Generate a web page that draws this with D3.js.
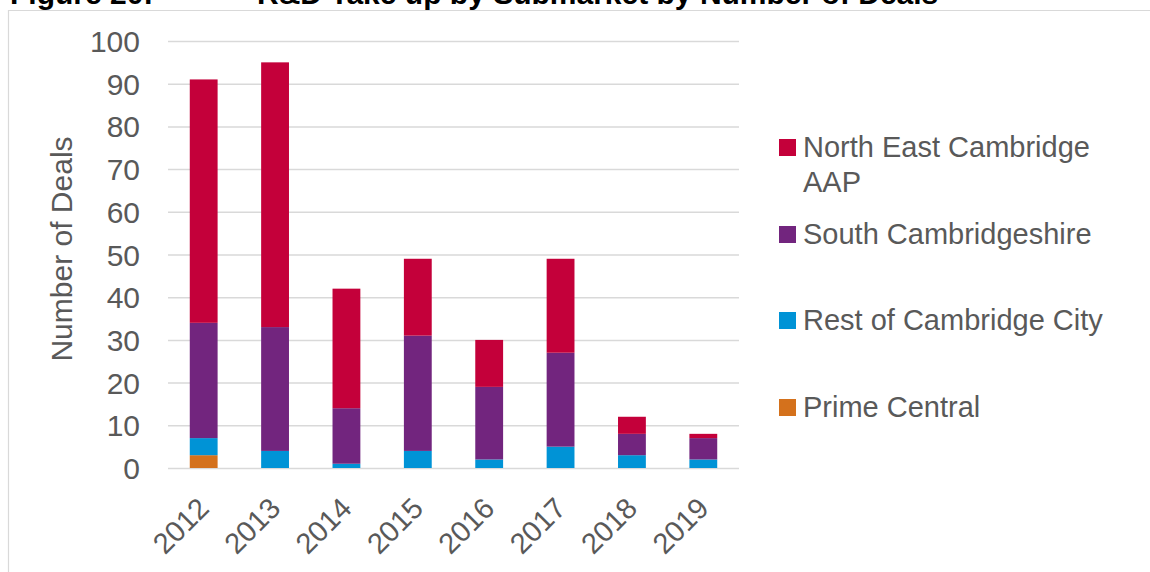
<!DOCTYPE html>
<html>
<head>
<meta charset="utf-8">
<script src="https://cdn.jsdelivr.net/npm/d3@7"></script>
<style>
  body { margin: 0; background: #fff; }
  svg { display: block; font-family: "Liberation Sans", Arial, sans-serif; }
</style>
</head>
<body>
<script>
// chart data
var years = ["2012", "2013", "2014", "2015", "2016", "2017", "2018", "2019"];
var primeCentral = [3, 0, 0, 0, 0, 0, 0, 0];
var restOfCity   = [4, 4, 1, 4, 2, 5, 3, 2];
var southCambs   = [27, 29, 13, 27, 17, 22, 5, 5];
var northEast    = [57, 62, 28, 18, 11, 22, 4, 1];
var yTicks = [0, 10, 20, 30, 40, 50, 60, 70, 80, 90, 100];

var seriesNames = ["Prime Central", "Rest of Cambridge City", "South Cambridgeshire", "North East Cambridge AAP"];
var seriesColors = ["#d4711c", "#0093d6", "#72257e", "#c4003a"];

var width = 1150, height = 572;
var textCol = "#595959";

var svg = d3.select("body").append("svg")
  .attr("width", width)
  .attr("height", height);

// caption (cut off at the top, as in the source page)
svg.append("text")
  .attr("x", 10).attr("y", 4)
  .style("font-size", "30px").style("font-weight", "bold").attr("fill", "#000")
  .text("Figure 20:");
svg.append("text")
  .attr("x", 257).attr("y", 4)
  .style("font-size", "30px").style("font-weight", "bold").attr("fill", "#000")
  .text("R&D Take up by Submarket by Number of Deals");

// chart frame
svg.append("path")
  .attr("d", "M8.5,580 V10.5 H1160")
  .attr("fill", "none")
  .attr("stroke", "#d9d9d9")
  .attr("stroke-width", 1.2);

var x = d3.scaleBand()
  .domain(years)
  .range([168, 739])
  .paddingInner(0.61)
  .paddingOuter(0.305);

var y = d3.scaleLinear()
  .domain([0, 100])
  .range([468, 41]);

// gridlines + tick labels
var yAxis = d3.axisLeft(y)
  .tickValues(yTicks)
  .tickSize(-(739 - 168))
  .tickPadding(28);

var gy = svg.append("g")
  .attr("transform", "translate(168,0)")
  .call(yAxis);
gy.select(".domain").remove();
gy.selectAll(".tick line")
  .attr("stroke", "#d9d9d9")
  .attr("stroke-width", 1.5);
gy.selectAll(".tick text")
  .attr("fill", textCol)
  .style("font-size", "30px")
  .attr("dy", "0.35em");

// stacked bars
var table = years.map(function(yr, i) {
  return {
    year: yr,
    "Prime Central": primeCentral[i],
    "Rest of Cambridge City": restOfCity[i],
    "South Cambridgeshire": southCambs[i],
    "North East Cambridge AAP": northEast[i]
  };
});
var stack = d3.stack().keys(seriesNames)(table);

svg.append("g").selectAll("g")
  .data(stack)
  .enter().append("g")
  .attr("fill", function(d, i) { return seriesColors[i]; })
  .selectAll("rect")
  .data(function(d) { return d; })
  .enter().append("rect")
  .attr("x", function(d) { return x(d.data.year); })
  .attr("width", x.bandwidth())
  .attr("y", function(d) { return y(d[1]); })
  .attr("height", function(d) { return y(d[0]) - y(d[1]); });

// x axis labels, rotated
var xAxis = d3.axisBottom(x).tickSize(0).tickPadding(0);
var gx = svg.append("g")
  .attr("transform", "translate(0,468)")
  .call(xAxis);
gx.select(".domain").remove();
gx.selectAll(".tick text")
  .attr("fill", textCol)
  .style("font-size", "29px")
  .attr("text-anchor", "end")
  .attr("dy", null)
  .attr("y", null)
  .attr("transform", "translate(7,42) rotate(-45)");

// y axis title
svg.append("text")
  .attr("transform", "translate(72,249) rotate(-90)")
  .attr("text-anchor", "middle")
  .attr("fill", textCol)
  .style("font-size", "30px")
  .text("Number of Deals");

// legend, top entry first
var legendItems = [
  { name: ["North East Cambridge", "AAP"], color: seriesColors[3], top: 139 },
  { name: ["South Cambridgeshire"], color: seriesColors[2], top: 226 },
  { name: ["Rest of Cambridge City"], color: seriesColors[1], top: 312 },
  { name: ["Prime Central"], color: seriesColors[0], top: 399 }
];

var lg = svg.append("g").selectAll("g")
  .data(legendItems)
  .enter().append("g");
lg.append("rect")
  .attr("x", 779)
  .attr("y", function(d) { return d.top; })
  .attr("width", 17).attr("height", 17)
  .attr("fill", function(d) { return d.color; });
lg.append("text")
  .attr("fill", textCol)
  .style("font-size", "29px")
  .selectAll("tspan")
  .data(function(d) { return d.name.map(function(n, i) { return { n: n, y: d.top + 18 + i * 35 }; }); })
  .enter().append("tspan")
  .attr("x", 803)
  .attr("y", function(d) { return d.y; })
  .text(function(d) { return d.n; });
</script>
</body>
</html>
